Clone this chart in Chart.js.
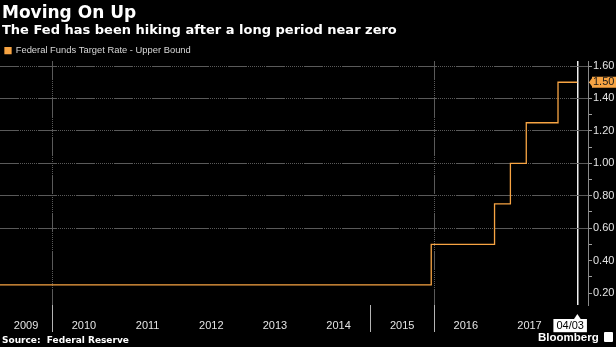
<!DOCTYPE html>
<html>
<head>
<meta charset="utf-8">
<script src="https://cdn.jsdelivr.net/npm/chart.js@4.4.1/dist/chart.umd.min.js"></script>
<style>
  html, body { margin: 0; padding: 0; background: #000; }
  body { width: 616px; height: 347px; position: relative; overflow: hidden; font-family: 'DejaVu Sans', sans-serif; }
  #wrap { position: absolute; left: 0; top: 0; width: 616px; height: 347px; }
  .txt { position: absolute; color: #fff; font-weight: bold; white-space: nowrap; }
  #title { left: 2px; top: 4px; font-size: 17px; line-height: 17px; }
  #subtitle { left: 2px; top: 23px; font-size: 13px; line-height: 13px; }
  #source { left: 2px; top: 336px; font-size: 9px; line-height: 9px; }
  #brand { left: 538px; top: 332px; font-size: 11.5px; line-height: 11.5px; font-family: 'Liberation Sans', Arial, sans-serif; }
  #brand .icon { display: inline-block; width: 9px; height: 10px; margin-left: 5px; vertical-align: -1px; background: #fff; border-radius: 1px; }
</style>
</head>
<body>
<div id="wrap"><canvas id="rate-chart"></canvas></div>
<div class="txt" id="title">Moving On Up</div>
<div class="txt" id="subtitle">The Fed has been hiking after a long period near zero</div>
<div class="txt" id="source">Source: &nbsp;Federal Reserve</div>
<div class="txt" id="brand">Bloomberg<span class="icon"></span></div>
<script>
// 数据
const changeDates = ['2009-03-08', '2015-12-16', '2016-12-14', '2017-03-15', '2017-06-14', '2017-12-13', '2018-04-03'];
const upperBound = [0.25, 0.50, 0.75, 1.00, 1.25, 1.50, 1.50];
const yearLabels = ['2009', '2010', '2011', '2012', '2013', '2014', '2015', '2016', '2017'];
const gridYears = [2010, 2016];        // 图内虚线竖线
const sepYears = [2010, 2015, 2016];   // 轴下方分隔线
const endLabel = '04/03';
const rateTicks = [0.2, 0.3, 0.4, 0.5, 0.6, 0.7, 0.8, 0.9, 1.0, 1.1, 1.2, 1.3, 1.4, 1.5, 1.6];
const rateLabels = [0.2, 0.4, 0.6, 0.8, 1.0, 1.2, 1.4, 1.6];
const rateGrid = [0.6, 0.8, 1.0, 1.2, 1.4, 1.6];
const axisEndDate = '2018-06-03';

const ORANGE = '#f7a443';
const GRID = '#5a5a5a';
const FONT = "'Liberation Sans', Arial, sans-serif";
const gridDash = [19, 1, 1, 1, 1, 1, 1, 1, 1, 1, 1, 1, 1, 1, 1, 1, 1, 1, 1, 1];

function toYear(iso) {
  const d = new Date(iso + 'T00:00:00Z');
  const y = d.getUTCFullYear();
  const a = Date.UTC(y, 0, 1), b = Date.UTC(y + 1, 0, 1);
  return y + (d.getTime() - a) / (b - a);
}

const xs = changeDates.map(toYear);
const endX = xs[xs.length - 1];
const lastRate = upperBound[upperBound.length - 1];
const points = xs.map((x, i) => ({ x: x, y: upperBound[i] }));

const kindOf = ctx => (ctx.tick ? ctx.tick.kind : '');

const markerPlugin = {
  id: 'markers',
  afterDraw(chart) {
    const { ctx, chartArea, scales } = chart;
    const ex = scales.x.getPixelForValue(endX);
    const ly = scales.y.getPixelForValue(lastRate);
    ctx.save();
    // 日期标记的小三角
    ctx.fillStyle = '#ffffff';
    ctx.beginPath();
    ctx.moveTo(ex, chartArea.bottom + 9);
    ctx.lineTo(ex - 4, chartArea.bottom + 15);
    ctx.lineTo(ex + 4, chartArea.bottom + 15);
    ctx.closePath();
    ctx.fill();
    // 最新值标签的箭头
    ctx.fillStyle = ORANGE;
    ctx.beginPath();
    ctx.moveTo(chartArea.right + 1, ly);
    ctx.lineTo(chartArea.right + 5, ly - 5.5);
    ctx.lineTo(chartArea.right + 5, ly + 5.5);
    ctx.closePath();
    ctx.fill();
    ctx.restore();
  }
};

new Chart(document.getElementById('rate-chart'), {
  type: 'line',
  data: {
    datasets: [{
      label: 'Federal Funds Target Rate - Upper Bound',
      data: points,
      borderColor: ORANGE,
      backgroundColor: ORANGE,
      borderWidth: 1.3,
      pointRadius: 0,
      stepped: true,
      fill: false
    }]
  },
  options: {
    responsive: true,
    maintainAspectRatio: false,
    animation: false,
    layout: { padding: { top: 41, left: 0, right: 0, bottom: 13 } },
    plugins: {
      tooltip: { enabled: false },
      legend: {
        position: 'top',
        align: 'start',
        maxHeight: 20,
        labels: {
          boxWidth: 6,
          boxHeight: 6,
          padding: 5,
          color: '#d8d8d8',
          font: { family: FONT, size: 9.4 }
        }
      }
    },
    scales: {
      x: {
        type: 'linear',
        min: xs[0],
        max: toYear(axisEndDate),
        afterBuildTicks(axis) {
          const ticks = [];
          yearLabels.forEach(label => {
            const yr = Number(label);
            const a = Math.max(yr, axis.min), b = Math.min(yr + 1, endX);
            ticks.push({ value: (a + b) / 2, text: label, kind: 'year' });
          });
          new Set([...gridYears, ...sepYears]).forEach(yr => {
            ticks.push({ value: yr, text: '', kind: 'bound', year: yr });
          });
          ticks.push({ value: endX, text: '', kind: 'end' });
          ticks.push({ value: endX - 0.113, text: endLabel, kind: 'endLabel' });
          ticks.sort((a, b) => a.value - b.value);
          axis.ticks = ticks;
        },
        afterFit(axis) { axis.height = 29; },
        border: {
          display: false,
          dash: ctx => (kindOf(ctx) === 'end' ? [] : gridDash)
        },
        grid: {
          color: ctx => {
            const k = kindOf(ctx);
            if (k === 'end') return '#f0f0f0';
            if (k === 'bound' && gridYears.includes(ctx.tick.year)) return GRID;
            return 'rgba(0,0,0,0)';
          },
          lineWidth: ctx => (kindOf(ctx) === 'end' ? 1.5 : 1),
          tickColor: ctx => (kindOf(ctx) === 'bound' && sepYears.includes(ctx.tick.year) ? '#b4b4b4' : 'rgba(0,0,0,0)'),
          tickLength: 27
        },
        ticks: {
          autoSkip: false,
          maxRotation: 0,
          padding: -13,
          color: ctx => (kindOf(ctx) === 'endLabel' ? '#000' : '#e4e4e4'),
          font: { family: FONT, size: 11 },
          showLabelBackdrop: ctx => kindOf(ctx) === 'endLabel',
          backdropColor: '#ffffff',
          backdropPadding: { top: 0, bottom: 0, left: 3, right: 3 },
          callback: (value, index, ticks) => ticks[index].text
        }
      },
      y: {
        position: 'right',
        min: 0.126,
        max: 1.631,
        afterBuildTicks(axis) {
          axis.ticks = rateTicks.map(v => ({ value: v }));
        },
        afterFit(axis) { axis.width = 28; },
        border: {
          display: true,
          color: '#8a8a8a',
          width: 1,
          dash: gridDash
        },
        grid: {
          color: ctx => (ctx.tick && rateGrid.includes(ctx.tick.value) ? GRID : 'rgba(0,0,0,0)'),
          tickColor: '#a0a0a0',
          tickLength: 4
        },
        ticks: {
          padding: 1,
          color: ctx => (ctx.tick && ctx.tick.value === lastRate ? '#1a1a1a' : '#e4e4e4'),
          font: { family: FONT, size: 11, lineHeight: 1 },
          showLabelBackdrop: ctx => !!ctx.tick && ctx.tick.value === lastRate,
          backdropColor: ORANGE,
          backdropPadding: { top: 0, bottom: 0, left: 1, right: 4 },
          callback: value => (rateLabels.includes(value) || value === lastRate ? value.toFixed(2) : '')
        }
      }
    }
  },
  plugins: [markerPlugin]
});
</script>
</body>
</html>
